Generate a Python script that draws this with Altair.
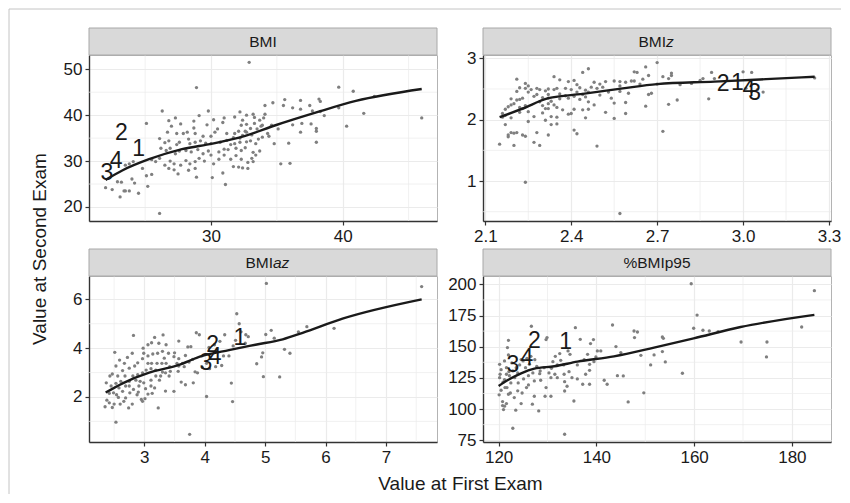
import altair as alt
import pandas as pd

# ---------------- data ----------------
labels = ["1", "2", "3", "4"]

# Panel BMI: (first exam, second exam)
bmi_pts = [
    (32.9, 51.5), (28.9, 46.0), (39.7, 46.1), (40.8, 45.2), (42.4, 44.1), (46.0, 39.4), (41.6, 40.4),
    (40.3, 37.6), (39.7, 41.6), (26.3, 40.9), (25.1, 38.2), (26.1, 18.6),
    (34.1, 42.1), (34.7, 42.7), (35.6, 43.4), (35.5, 42.1), (36.2, 41.6), (36.8, 43.2), (36.8, 41.3),
    (37.5, 42.1), (38.2, 43.5), (38.3, 43.0), (38.3, 40.8), (37.7, 40.9), (38.6, 39.9), (36.9, 38.2),
    (37.6, 38.1), (38.0, 37.1), (38.0, 36.5), (36.8, 36.3), (38.0, 34.1), (36.2, 37.9), (35.9, 33.9),
    (36.0, 29.5), (35.3, 29.4), (34.8, 33.8), (34.4, 35.4), (35.1, 37.0), (34.6, 37.8), (34.1, 40.2),
    (34.0, 39.4), (33.9, 37.8),
    (29.8, 40.9), (29.1, 39.9), (27.3, 39.4), (26.8, 38.8), (27.7, 38.1), (28.7, 38.7), (29.7, 37.9),
    (30.2, 39.0), (31.0, 39.4), (30.9, 38.4), (31.8, 39.6), (32.2, 40.7), (32.7, 40.0), (33.2, 40.2),
    (33.3, 39.5), (32.4, 38.9), (32.3, 37.8), (32.7, 38.0), (33.3, 38.2), (33.7, 38.9), (33.8, 37.6),
    (33.5, 37.0), (33.0, 37.1), (32.6, 36.5), (32.1, 36.5), (31.8, 36.0), (32.7, 36.3), (33.1, 35.7),
    (32.4, 35.6), (32.2, 35.0), (31.7, 35.1), (31.2, 36.0), (30.5, 37.0), (30.3, 36.3), (30.0, 35.4),
    (29.4, 35.4), (28.7, 37.2), (28.2, 36.3), (28.8, 36.0), (27.9, 36.0), (27.4, 36.0), (27.0, 37.6),
    (26.7, 36.3), (26.1, 34.9), (26.5, 34.0), (26.2, 32.8), (26.8, 34.4), (27.4, 33.6), (27.6, 34.1),
    (28.3, 34.8), (28.4, 33.8), (28.8, 34.1), (29.2, 34.4), (29.6, 33.9), (30.0, 33.8), (30.7, 34.1),
    (31.2, 34.5), (31.5, 33.6), (31.8, 33.8), (32.2, 34.1), (32.7, 34.2), (33.0, 34.4), (33.4, 33.8),
    (33.6, 34.8), (33.9, 35.2), (34.3, 36.0),
    (26.6, 32.3), (26.9, 32.8), (27.3, 31.6), (27.6, 32.2), (28.1, 32.3), (28.5, 32.0), (29.0, 32.5),
    (29.4, 31.6), (29.8, 32.2), (30.0, 31.3), (30.6, 32.0), (31.0, 32.6), (31.3, 32.5), (31.9, 32.8),
    (32.3, 32.3), (32.6, 32.9), (33.2, 31.9), (33.7, 32.2), (33.4, 31.3), (33.1, 30.6), (32.8, 29.7),
    (32.3, 30.4), (31.9, 31.2), (31.5, 30.4), (31.0, 31.3), (30.6, 30.4), (30.2, 29.4), (29.5, 30.0),
    (29.1, 30.6), (28.8, 29.9), (28.4, 29.4), (28.1, 30.1), (27.7, 29.1), (27.2, 29.4), (26.9, 30.0),
    (26.5, 29.1), (26.1, 30.6), (25.8, 29.9), (25.5, 30.3), (26.8, 28.4), (27.2, 28.1), (27.5, 27.2),
    (28.3, 28.0), (28.8, 28.4), (28.9, 26.5), (30.1, 26.4), (30.9, 27.4), (31.1, 24.9), (31.7, 28.8),
    (32.1, 28.7), (32.4, 28.5), (32.8, 28.4), (33.2, 29.9),
    (25.5, 27.1), (25.1, 26.8), (24.8, 28.4), (25.2, 24.5), (24.5, 23.0), (24.2, 25.2), (24.0, 26.1),
    (23.8, 29.4), (24.1, 29.9), (23.5, 29.1), (23.4, 23.5), (23.1, 22.2), (22.5, 23.8), (22.0, 24.2),
    (22.9, 25.5), (23.2, 25.4), (23.8, 23.5), (23.5, 23.5),
]
bmi_fit_x = [22.0, 23.3, 25.3, 27.8, 30.1, 32.6, 34.9, 38.0, 41.0, 46.0]
bmi_fit_y = [25.9, 28.0, 30.4, 32.6, 33.8, 35.5, 37.8, 40.6, 43.1, 45.7]
bmi_lab_x = [24.5, 23.2, 22.1, 22.8]
bmi_lab_y = [32.6, 36.2, 27.5, 30.1]

# Panel BMIz
bmiz_pts = [
    (2.70, 2.93), (2.66, 2.86), (2.62, 2.78), (2.46, 2.83), (2.44, 2.77), (2.34, 2.70), (2.21, 2.66),
    (2.89, 2.77), (3.00, 2.78), (3.03, 2.77), (3.25, 2.68), (3.07, 2.45), (3.05, 2.49), (2.88, 2.34),
    (2.77, 2.32), (2.74, 2.25), (2.72, 1.81), (2.66, 2.22), (2.68, 2.43), (2.67, 2.41), (2.72, 2.70),
    (2.74, 2.67), (2.75, 2.76), (2.75, 2.72), (2.67, 2.72), (2.65, 2.66), (2.63, 2.77), (2.61, 2.63),
    (2.59, 2.61), (2.57, 2.62), (2.55, 2.63), (2.60, 2.43), (2.59, 2.28), (2.57, 2.46), (2.55, 2.27),
    (2.55, 2.02), (2.59, 2.10), (2.57, 2.55), (2.52, 2.62), (2.50, 2.58), (2.48, 2.61), (2.47, 2.53),
    (2.45, 2.48), (2.43, 2.52), (2.42, 2.57), (2.41, 2.64), (2.39, 2.62), (2.38, 2.51), (2.36, 2.65),
    (2.35, 2.51), (2.34, 2.49), (2.32, 2.50), (2.31, 2.47), (2.29, 2.49), (2.28, 2.41), (2.27, 2.38),
    (2.25, 2.45), (2.24, 2.59), (2.25, 2.55), (2.23, 2.35), (2.22, 2.33), (2.21, 2.32), (2.19, 2.24),
    (2.18, 2.21), (2.17, 2.17), (2.16, 2.10), (2.17, 2.07), (2.19, 2.03), (2.17, 1.92), (2.15, 1.60),
    (2.18, 1.72), (2.18, 1.75), (2.19, 1.79), (2.20, 1.78), (2.21, 1.79), (2.20, 1.58), (2.23, 1.75),
    (2.24, 1.73), (2.24, 0.98), (2.27, 1.63), (2.29, 1.58), (2.28, 1.79), (2.32, 1.75), (2.25, 1.97),
    (2.27, 2.05), (2.25, 2.13), (2.22, 2.12), (2.22, 2.20), (2.23, 2.18), (2.30, 2.23), (2.31, 2.18),
    (2.32, 2.26), (2.33, 2.30), (2.34, 2.24), (2.36, 2.34), (2.38, 2.39), (2.39, 2.35), (2.41, 2.38),
    (2.43, 2.33), (2.45, 2.37), (2.46, 2.29), (2.48, 2.24), (2.46, 2.17), (2.44, 2.16), (2.41, 2.17),
    (2.39, 2.09), (2.40, 2.10), (2.37, 2.16), (2.35, 2.20), (2.33, 2.05), (2.35, 2.04), (2.35, 1.93),
    (2.33, 1.92), (2.31, 1.99), (2.41, 1.83), (2.42, 1.77), (2.49, 1.57), (2.45, 2.03), (2.52, 2.12),
    (2.54, 2.35), (2.53, 2.45), (2.57, 0.47), (2.49, 2.51), (2.51, 2.53), (2.62, 2.63), (2.64, 2.58),
    (2.70, 2.58), (2.78, 2.57), (2.82, 2.59), (2.85, 2.64), (2.86, 2.67), (2.90, 2.67), (3.01, 2.51),
    (3.03, 2.46), (2.21, 2.46), (2.22, 2.52), (2.24, 2.51), (2.26, 2.49), (2.28, 2.51), (2.30, 2.36),
    (2.32, 2.41), (2.32, 2.35), (2.29, 2.29), (2.30, 2.11), (2.32, 2.18), (2.36, 2.42), (2.40, 2.49),
    (2.42, 2.45), (2.44, 2.41), (2.46, 2.45), (2.50, 2.40), (2.19, 2.34), (2.20, 2.26), (2.24, 2.23),
    (2.16, 2.04),
]
bmiz_fit_x = [2.15, 2.23, 2.32, 2.44, 2.58, 2.70, 2.90, 3.08, 3.25]
bmiz_fit_y = [2.04, 2.18, 2.35, 2.42, 2.51, 2.58, 2.62, 2.66, 2.70]
bmiz_lab_x = [2.98, 2.93, 3.04, 3.02]
bmiz_lab_y = [2.60, 2.58, 2.44, 2.50]

# Panel BMIaz
bmiaz_pts = [
    (5.02, 6.65), (7.59, 6.52), (6.14, 4.81), (5.69, 4.88), (5.55, 4.67), (5.41, 3.79), (5.32, 3.95),
    (5.24, 2.82), (5.15, 4.41), (5.10, 4.73), (5.01, 4.56), (4.96, 3.81), (4.97, 2.83), (4.86, 3.36),
    (4.94, 3.64), (4.53, 5.41), (4.57, 5.00), (4.60, 4.67), (4.68, 4.55), (4.72, 4.47), (4.67, 4.20),
    (4.51, 4.32), (4.47, 4.09), (4.40, 3.68), (4.33, 4.55), (4.44, 2.57), (4.46, 1.81), (4.03, 2.02),
    (3.75, 0.47), (2.53, 0.97), (2.82, 4.52), (2.51, 3.83), (3.86, 4.63), (3.91, 4.55), (3.77, 4.06),
    (3.72, 4.05), (3.57, 4.29), (3.50, 3.81), (3.36, 4.14), (3.31, 4.54), (3.24, 4.20), (3.17, 4.44),
    (3.12, 4.22), (3.06, 4.14), (2.98, 4.00), (2.99, 3.79), (3.06, 3.68), (3.14, 3.76), (3.22, 3.79),
    (3.30, 3.87), (3.40, 3.79), (3.49, 3.65), (3.57, 3.57), (3.68, 3.70), (3.74, 3.43), (3.66, 3.24),
    (3.56, 3.05), (3.61, 2.61), (3.68, 2.50), (3.81, 2.58), (3.84, 3.03), (3.88, 2.99), (3.96, 3.21),
    (4.03, 3.38), (4.08, 3.16), (4.18, 3.24), (4.28, 3.29), (3.49, 2.23), (3.35, 2.24), (3.41, 2.86),
    (3.43, 3.05), (3.30, 3.02), (3.25, 2.69), (3.23, 1.55), (3.17, 2.37), (3.13, 2.15), (3.06, 2.12),
    (2.97, 1.82), (3.01, 1.93), (2.95, 1.90), (2.88, 2.09), (2.80, 1.71), (2.74, 1.55), (2.66, 1.82),
    (2.60, 1.71), (2.50, 1.71), (2.42, 1.76), (2.35, 1.60), (2.38, 1.87), (2.47, 1.57), (2.57, 1.98),
    (2.69, 1.96), (2.76, 2.17), (2.82, 2.31), (2.91, 2.45), (2.99, 2.58), (3.11, 2.69), (3.19, 2.86),
    (3.27, 2.86), (3.35, 2.99), (3.42, 3.24), (3.29, 3.38), (3.21, 3.38), (3.12, 3.38), (3.06, 3.38),
    (2.97, 3.57), (2.89, 3.40), (2.84, 3.27), (2.75, 3.18), (2.67, 3.38), (2.59, 3.51), (2.53, 3.27),
    (2.47, 2.94), (2.43, 2.86), (2.37, 2.58), (2.45, 2.45), (2.53, 2.56), (2.58, 2.37), (2.64, 2.23),
    (2.69, 2.45), (2.75, 2.64), (2.81, 2.86), (2.89, 2.91), (2.97, 2.99), (3.03, 3.10), (3.11, 3.16),
    (3.19, 3.10), (2.80, 3.79), (2.72, 3.62), (2.64, 3.08), (2.56, 2.86), (2.68, 2.86), (2.61, 2.64),
    (2.75, 2.45), (2.86, 2.69), (2.49, 2.17), (2.42, 2.15), (2.54, 2.09), (2.90, 2.20), (2.93, 2.64),
    (3.02, 2.34), (3.11, 2.45), (3.36, 3.38), (3.54, 3.38), (3.33, 3.59), (3.63, 3.38), (3.80, 3.54),
    (4.07, 4.03), (4.16, 4.14), (4.25, 4.28), (4.31, 3.68), (3.57, 3.27),
]
bmiaz_fit_x = [2.36, 2.64, 3.08, 3.52, 3.96, 4.40, 4.84, 5.29, 5.62, 6.28, 7.59]
bmiaz_fit_y = [2.18, 2.56, 3.00, 3.27, 3.68, 3.92, 4.14, 4.36, 4.63, 5.21, 6.00]
bmiaz_lab_x = [4.58, 4.13, 4.02, 4.17]
bmiaz_lab_y = [4.43, 4.13, 3.40, 3.64]

# Panel %BMIp95
p95_pts = [
    (159.4, 200.5), (184.6, 194.9), (160.6, 175.4), (159.9, 164.8), (182.0, 165.8), (161.8, 163.2),
    (163.1, 162.6), (174.9, 153.8), (169.6, 153.8), (174.8, 141.8), (164.9, 162.1), (157.6, 128.7),
    (154.1, 137.8), (153.5, 146.1), (153.7, 156.7), (153.5, 157.8), (151.8, 143.4), (151.1, 135.4),
    (149.7, 113.0), (149.1, 143.1), (148.4, 161.8), (147.7, 162.6), (147.8, 157.3), (146.5, 105.7),
    (145.5, 126.6), (145.0, 145.3), (144.3, 126.8), (144.0, 150.1), (143.3, 167.4), (142.2, 119.9),
    (141.6, 123.1), (140.9, 146.6), (140.2, 146.6), (139.9, 141.8), (139.4, 155.7), (138.8, 152.5),
    (138.2, 143.9), (138.6, 131.1), (137.8, 127.9), (137.2, 119.9), (138.6, 119.9), (136.7, 155.9),
    (135.7, 165.3), (135.4, 106.5), (135.0, 125.2), (134.6, 143.9), (133.5, 79.8), (133.5, 114.5),
    (133.5, 122.0), (134.0, 118.3), (134.2, 146.6), (132.7, 139.1), (132.0, 135.4), (131.5, 127.9),
    (130.8, 132.7), (130.7, 110.3), (129.7, 155.7), (129.9, 157.3), (129.7, 117.2), (129.5, 110.3),
    (128.6, 123.1), (128.2, 98.5), (128.4, 128.4), (127.3, 110.3), (126.7, 166.4), (126.9, 103.9),
    (125.7, 117.2), (124.6, 104.4), (123.9, 114.6), (123.5, 99.1), (122.9, 84.6), (122.0, 155.1),
    (122.0, 143.4), (121.6, 133.2), (121.2, 102.3), (120.8, 106.0), (121.0, 99.6), (120.2, 135.9),
    (120.1, 111.4), (120.5, 115.1), (120.9, 121.5), (120.2, 125.2), (121.2, 123.6), (121.6, 127.9),
    (122.2, 126.8), (122.9, 130.6), (123.6, 133.2), (124.3, 135.4), (125.0, 138.6), (125.8, 140.7),
    (126.6, 142.3), (127.4, 139.6), (127.8, 134.3), (127.0, 129.0), (126.1, 126.8), (125.1, 124.2),
    (124.0, 121.0), (123.3, 125.2), (122.5, 121.0), (121.7, 117.2), (122.4, 112.9), (123.2, 109.2),
    (124.8, 112.9), (126.1, 119.4), (127.3, 122.6), (128.5, 130.6), (129.3, 133.2), (130.3, 129.0),
    (131.1, 138.0), (131.6, 142.3), (132.5, 144.5), (133.3, 135.4), (134.4, 130.0), (136.1, 135.4),
    (137.5, 139.6), (138.6, 135.9), (139.5, 138.0), (136.1, 124.2), (133.4, 127.9), (132.0, 125.2),
    (130.7, 125.2), (121.8, 149.3), (124.6, 139.7), (122.7, 137.0), (125.5, 133.2), (126.3, 135.9),
    (121.2, 138.6), (120.5, 131.6), (120.3, 127.9), (121.3, 117.2), (122.0, 111.9), (120.8, 102.8),
    (121.6, 104.4), (122.1, 130.0), (123.9, 129.0),
]
p95_fit_x = [120.0, 121.8, 124.6, 127.3, 131.4, 136.1, 143.6, 151.8, 159.9, 169.5, 184.6]
p95_fit_y = [118.5, 123.1, 128.7, 132.4, 134.3, 138.0, 142.3, 149.3, 156.7, 165.8, 175.5]
p95_lab_x = [133.7, 127.3, 122.9, 125.8]
p95_lab_y = [154.1, 154.6, 135.4, 141.3]

# axis ticks (major) and minor grid values
bmi_xt, bmi_yt = [30, 40], [20, 30, 40, 50]
bmi_xm, bmi_ym = [25, 35, 45], [25, 35, 45]
bmiz_xt, bmiz_yt = [2.1, 2.4, 2.7, 3.0, 3.3], [1, 2, 3]
bmiz_xm, bmiz_ym = [2.25, 2.55, 2.85, 3.15], [0.5, 1.5, 2.5]
bmiaz_xt, bmiaz_yt = [3, 4, 5, 6, 7], [2, 4, 6]
bmiaz_xm, bmiaz_ym = [2.5, 3.5, 4.5, 5.5, 6.5, 7.5], [1, 3, 5]
p95_xt, p95_yt = [120, 140, 160, 180], [75, 100, 125, 150, 175, 200]
p95_xm, p95_ym = [130, 150, 170], [87.5, 112.5, 137.5, 162.5, 187.5]

# ---------------- styling ----------------
FONT = "Liberation Sans"
W, H = 348, 166
STRIP_H = 27
GRID = "#ebebeb"
one = alt.Data(values=[{"a": 1}])


def panel(pts, fx, fy, lx, ly, xdom, ydom, xt, yt, xm, ym, xfmt, yfmt, strip, extra=()):
    xs = alt.Scale(domain=xdom, nice=False, zero=False)
    ys = alt.Scale(domain=ydom, nice=False, zero=False)
    xax = alt.Axis(values=xt, format=xfmt, title=None)
    yax = alt.Axis(values=yt, format=yfmt, title=None)

    def X():
        return alt.X("first:Q", scale=xs, axis=xax)

    def Y():
        return alt.Y("second:Q", scale=ys, axis=yax)

    pdf = pd.DataFrame(pts, columns=["first", "second"])
    fdf = pd.DataFrame({"first": fx, "second": fy})
    ldf = pd.DataFrame({"first": lx, "second": ly, "lab": labels})

    vgrid = alt.Chart(pd.DataFrame({"first": xm})).mark_rule(color=GRID, strokeWidth=0.7).encode(x=X())
    hgrid = alt.Chart(pd.DataFrame({"second": ym})).mark_rule(color=GRID, strokeWidth=0.7).encode(y=Y())
    dots = alt.Chart(pdf).mark_circle(size=11, color="#7f7f7f", opacity=1).encode(x=X(), y=Y())
    line = alt.Chart(fdf).mark_line(color="#1a1a1a", strokeWidth=2.4, interpolate="monotone").encode(
        x=X(), y=Y())
    txt = alt.Chart(ldf).mark_text(font=FONT, fontSize=23, color="#1a1a1a",
                                   align="center", baseline="middle").encode(x=X(), y=Y(), text="lab:N")
    rect = alt.Chart(one).mark_rect(fill="#d9d9d9", stroke="#a8a8a8", strokeWidth=1).encode(
        x=alt.value(0), x2=alt.value(W), y=alt.value(-STRIP_H), y2=alt.value(0))
    layers = [vgrid, hgrid, dots, line, txt, rect]
    for (s, px, al, style) in strip:
        layers.append(alt.Chart(one).mark_text(text=s, font=FONT, fontSize=15.5, color="#1a1a1a",
                                               align=al, baseline="middle", fontStyle=style).encode(
            x=alt.value(px), y=alt.value(-STRIP_H / 2)))
    layers.extend(extra)
    return alt.layer(*layers).properties(width=W, height=H)


frame_color = "#c4c4c4"
top_extra = [
    alt.Chart(one).mark_rule(color=frame_color, strokeWidth=1).encode(
        x=alt.value(-80), x2=alt.value(752), y=alt.value(-46)),
    alt.Chart(one).mark_rule(color=frame_color, strokeWidth=1).encode(
        x=alt.value(-80), y=alt.value(-46), y2=alt.value(439)),
    alt.Chart(one).mark_text(text="Value at Second Exam", font=FONT, fontSize=19, color="#1a1a1a",
                             angle=270, align="center", baseline="middle").encode(
        x=alt.value(-49), y=alt.value(194)),
]
bottom_extra = [
    alt.Chart(one).mark_text(text="Value at First Exam", font=FONT, fontSize=19, color="#1a1a1a",
                             align="center", baseline="middle").encode(
        x=alt.value(371.5), y=alt.value(208)),
]

p1 = panel(bmi_pts, bmi_fit_x, bmi_fit_y, bmi_lab_x, bmi_lab_y, [20.74, 47.16], [16.95, 53.1],
           bmi_xt, bmi_yt, bmi_xm, bmi_ym, "d", "d", [("BMI", W / 2, "center", "normal")], top_extra)
p2 = panel(bmiz_pts, bmiz_fit_x, bmiz_fit_y, bmiz_lab_x, bmiz_lab_y, [2.092, 3.307], [0.348, 3.054],
           bmiz_xt, bmiz_yt, bmiz_xm, bmiz_ym, ".1f", "d",
           [("BMI", 183, "right", "normal"), ("z", 183, "left", "italic")])
p3 = panel(bmiaz_pts, bmiaz_fit_x, bmiaz_fit_y, bmiaz_lab_x, bmiaz_lab_y, [2.084, 7.844], [0.156, 6.955],
           bmiaz_xt, bmiaz_yt, bmiaz_xm, bmiaz_ym, "d", "d",
           [("BMI", 184, "right", "normal"), ("az", 184, "left", "italic")], bottom_extra)
p4 = panel(p95_pts, p95_fit_x, p95_fit_y, p95_lab_x, p95_lab_y, [116.8, 188.0], [73.6, 206.7],
           p95_xt, p95_yt, p95_xm, p95_ym, "d", "d", [("%BMIp95", W / 2, "center", "normal")])

chart = alt.concat(p1, p2, p3, p4, columns=2, spacing={"row": 55, "column": 46},
                   bounds="flush").properties(padding=0).configure_view(
    stroke="#b3b3b3", strokeWidth=1
).configure_axis(
    labelFont=FONT, labelFontSize=17, labelColor="#1a1a1a", labelPadding=3,
    labelFlush=False, labelOverlap=False,
    tickColor="#333333", tickSize=4, tickWidth=1.2,
    domainColor="#333333", domainWidth=1.4,
    gridColor=GRID, gridWidth=1.2,
)

chart.save("out.html", embed_options={"renderer": "svg", "actions": False})
